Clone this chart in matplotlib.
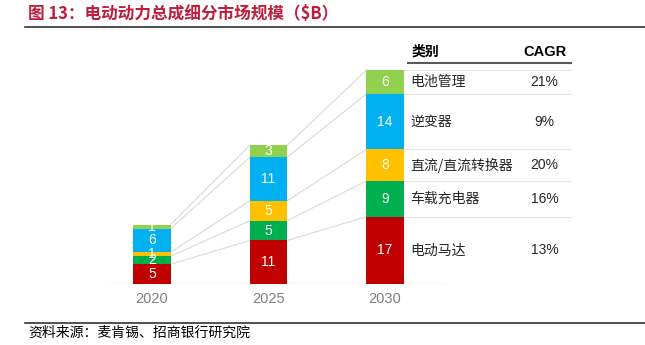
import numpy as np
import matplotlib.pyplot as plt
from matplotlib.lines import Line2D

plt.rcParams['font.family'] = ['Noto Sans CJK SC', 'DejaVu Sans']
num_font = ['Liberation Sans', 'Noto Sans CJK SC']

years = ['2020', '2025', '2030']
segments = ['电动马达', '车载充电器', '直流/直流转换器', '逆变器', '电池管理']
values = {
    '电动马达': [5, 11, 17],
    '车载充电器': [2, 5, 9],
    '直流/直流转换器': [1, 5, 8],
    '逆变器': [6, 11, 14],
    '电池管理': [1, 3, 6],
}
cagr = ['13%', '16%', '20%', '9%', '21%']
colors = ['#C00000', '#00B050', '#FFC000', '#00B0F0', '#92D050']

fig = plt.figure(figsize=(6.45, 3.45), dpi=100)
W, H = 645, 345

# chart axes: baseline at y=284px, 3.96px per $B
ax = fig.add_axes([110 / W, 61 / H, 490 / W, 245.5 / H])
ax.set_xlim(-0.36, 3.845)
ax.set_ylim(0, 62)
ax.axis('off')

x = np.arange(len(years))
width = 0.32
bottom = np.zeros(len(years))
tops = []
for seg, c in zip(segments, colors):
    v = np.array(values[seg])
    ax.bar(x, v, width, bottom=bottom, color=c, edgecolor='none', zorder=3)
    for xi, b, vi in zip(x, bottom, v):
        ax.text(xi, b + vi / 2, str(vi), ha='center', va='center',
                color='white', fontsize=10, family=num_font, zorder=4)
    bottom = bottom + v
    tops.append(bottom.copy())

# series lines joining segment tops between bars
for t in tops:
    for i in range(len(years) - 1):
        ax.plot([x[i] + width / 2, x[i + 1] - width / 2], [t[i], t[i + 1]],
                color='#D9D9D9', lw=0.8, zorder=1)

ax.plot([-0.36, 2.5], [0, 0], color='#D9D9D9', lw=1, zorder=2)
for xi, yr in zip(x, years):
    ax.text(xi, -3.8, yr, ha='center', va='center', color='#7F7F7F',
            fontsize=10.5, family=num_font)

# table beside the 2030 bar
last = [values[s][-1] for s in segments]
edges = np.cumsum([0] + last)
tx0, tx1 = 2.215, 3.6
ax.text(2.23, 58.6, '类别', ha='left', va='center', fontsize=10, fontweight='bold')
ax.text(3.37, 58.6, 'CAGR', ha='center', va='center', fontsize=10.5,
        fontweight='bold', family=num_font)
ax.plot([2.2, tx1], [55.8, 55.8], color='#595959', lw=1.5)
for i, seg in enumerate(segments):
    mid = (edges[i] + edges[i + 1]) / 2
    ax.text(tx0, mid, seg, ha='left', va='center', fontsize=10, color='#262626')
    ax.text(3.37, mid, cagr[i], ha='center', va='center', fontsize=10,
            color='#262626', family=num_font)
    if 0 < i:
        ax.plot([2 + width / 2, tx1], [edges[i], edges[i]], color='#E6E6E6', lw=0.8)
ax.plot([2 + width / 2, tx1], [edges[-1], edges[-1]], color='#E6E6E6', lw=0.8)

# title and source
fig.text(28 / W, 1 - 14 / H, '图 13：电动动力总成细分市场规模（$B）', ha='left', va='center',
         fontsize=12, fontweight='bold', color='#BE1E3C')
fig.add_artist(Line2D([25 / W, 1], [1 - 27 / H] * 2, color='#333333', lw=1.2))
fig.add_artist(Line2D([25 / W, 1], [1 - 323 / H] * 2, color='#333333', lw=1.2))
fig.text(28 / W, 1 - 333 / H, '资料来源：麦肯锡、招商银行研究院', ha='left', va='center',
         fontsize=10, color='black')

fig.savefig('out.png', dpi=100)
